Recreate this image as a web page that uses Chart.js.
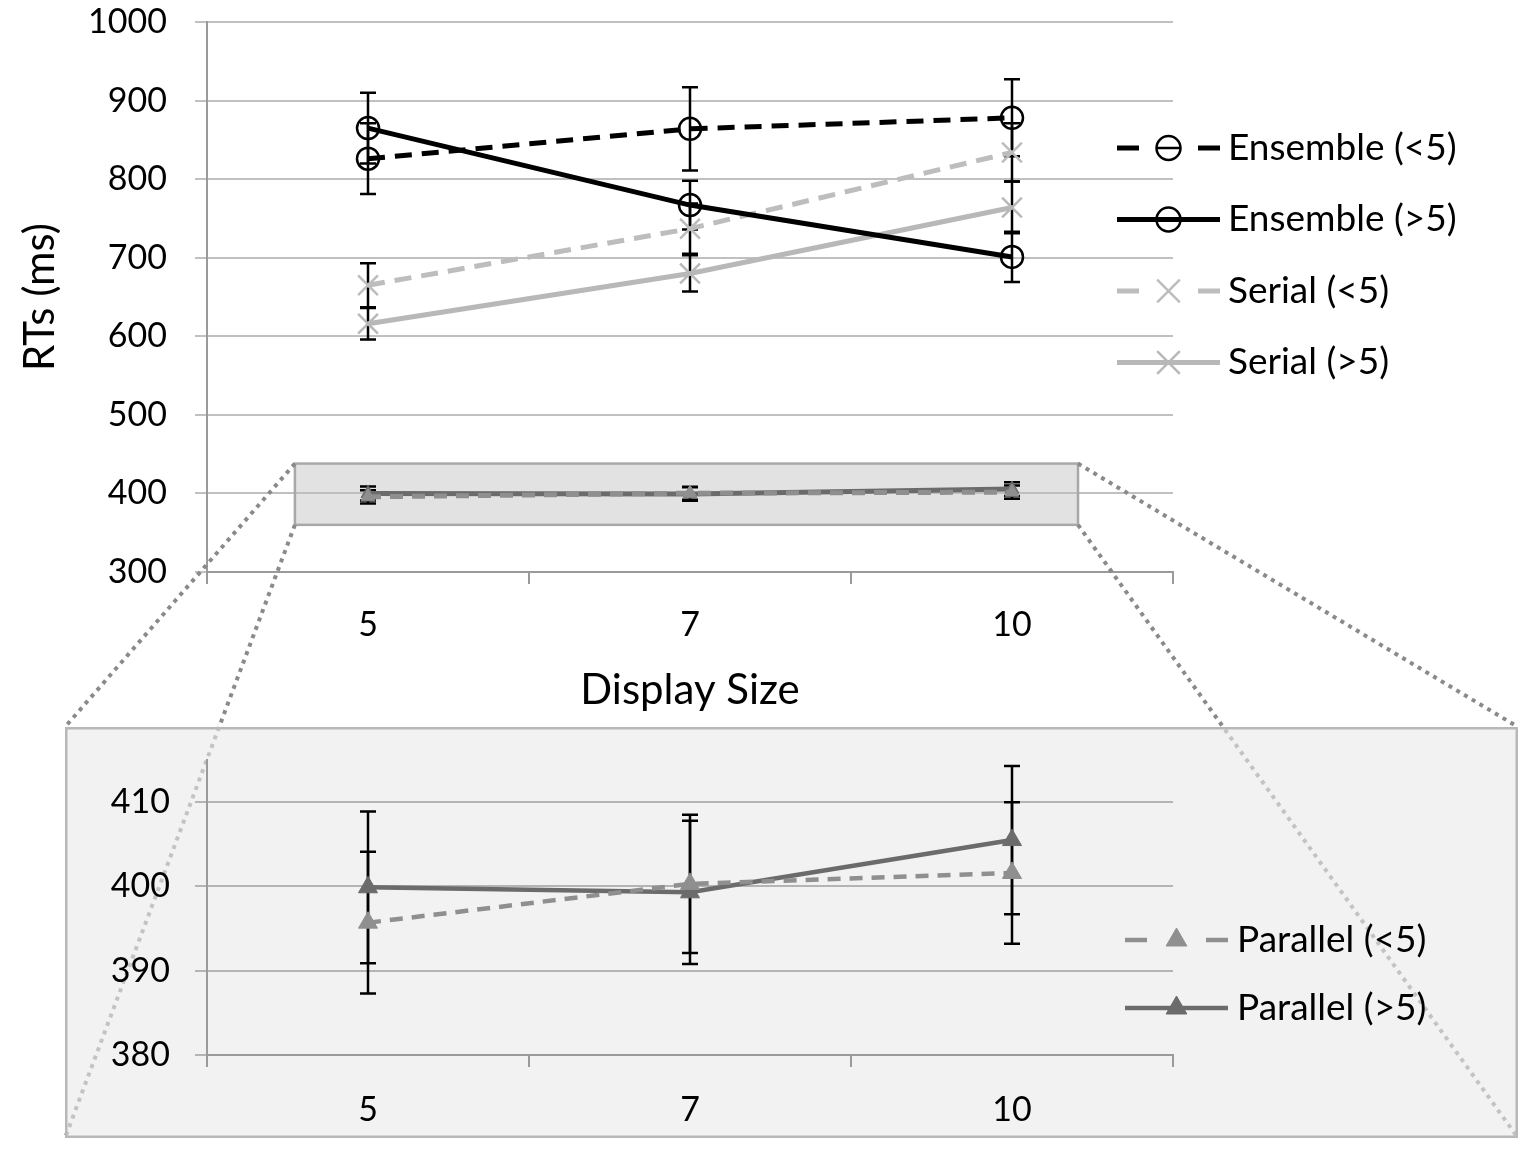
<!DOCTYPE html>
<html><head><meta charset="utf-8">
<script src="https://cdn.jsdelivr.net/npm/chart.js@4.4.0/dist/chart.umd.min.js"></script>
<style>
html,body{margin:0;padding:0;background:#fff;width:1535px;height:1158px;overflow:hidden;}
#topWrap{position:absolute;left:0;top:0;width:1535px;height:1158px;}
#botWrap{position:absolute;}
</style></head><body>
<div id="topWrap"><canvas id="top"></canvas></div>
<div id="botWrap"><canvas id="bot"></canvas></div>
<script>
// ---- data ----
const displaySizes = ['5', '7', '10'];
const ensembleLt5 = [826, 864, 878];
const ensembleLt5Err = [45, 53, 49];
const ensembleGt5 = [865, 767, 701];
const ensembleGt5Err = [45, 31, 32];
const serialLt5 = [665, 737, 834];
const serialLt5Err = [28, 32, 37];
const serialGt5 = [616, 680, 764];
const serialGt5Err = [20, 23, 33];
const parallelLt5 = [395.7, 400.3, 401.6];
const parallelLt5Err = [8.4, 8.2, 8.4];
const parallelGt5 = [399.9, 399.3, 405.5];
const parallelGt5Err = [9.0, 8.5, 8.8];
const topTicks = { min: 300, max: 1000, step: 100 };
const zoomTicks = { min: 380, max: 415, step: 10 };
const zoomRange = { yLow: 360, yHigh: 438, xFrom: -0.227, xTo: 2.205 };

// ---- layout ----
const PANEL = { left: 65, top: 727, width: 1453, height: 411 };
const bw = document.getElementById('botWrap');
bw.style.left = PANEL.left + 'px'; bw.style.top = PANEL.top + 'px';
bw.style.width = PANEL.width + 'px'; bw.style.height = PANEL.height + 'px';

const FONT = 'Lato, "Open Sans", sans-serif';
let zoomRectPx = null;

const errorBars = {
  id: 'errorBars',
  beforeDatasetsDraw(chart, args, o) {
    const ctx = chart.ctx, ys = chart.scales.y;
    ctx.save();
    ctx.strokeStyle = '#000'; ctx.lineWidth = o.width; ctx.setLineDash([]);
    chart.data.datasets.forEach((ds, i) => {
      if (!ds.errors) return;
      const meta = chart.getDatasetMeta(i);
      meta.data.forEach((pt, j) => {
        const v = ds.data[j], e = ds.errors[j];
        const yt = ys.getPixelForValue(v + e), yb = ys.getPixelForValue(v - e);
        ctx.beginPath();
        ctx.moveTo(pt.x, yt); ctx.lineTo(pt.x, yb);
        ctx.moveTo(pt.x - o.cap, yt); ctx.lineTo(pt.x + o.cap, yt);
        ctx.moveTo(pt.x - o.cap, yb); ctx.lineTo(pt.x + o.cap, yb);
        ctx.stroke();
      });
    });
    ctx.restore();
  }
};

const highlight = {
  id: 'highlight',
  beforeDatasetsDraw(chart) {
    const ctx = chart.ctx, xs = chart.scales.x, ys = chart.scales.y;
    const p0 = xs.getPixelForValue(0), p1 = xs.getPixelForValue(1);
    const x0 = p0 + zoomRange.xFrom * (p1 - p0), x1 = p0 + zoomRange.xTo * (p1 - p0);
    const y0 = ys.getPixelForValue(zoomRange.yHigh), y1 = ys.getPixelForValue(zoomRange.yLow);
    zoomRectPx = { x0, x1, y0, y1 };
    ctx.save();
    ctx.fillStyle = 'rgba(190,190,190,0.45)';
    ctx.fillRect(x0, y0, x1 - x0, y1 - y0);
    ctx.strokeStyle = '#a8a8a8'; ctx.lineWidth = 2.5;
    ctx.strokeRect(x0, y0, x1 - x0, y1 - y0);
    ctx.restore();
  }
};

const connectors = {
  id: 'connectors',
  afterDraw(chart) {
    if (!zoomRectPx) return;
    const r = zoomRectPx, ctx = chart.ctx;
    const L = PANEL.left, R = PANEL.left + PANEL.width, T = PANEL.top, B = PANEL.top + PANEL.height;
    ctx.save();
    ctx.strokeStyle = '#8a8a8a'; ctx.lineWidth = 4; ctx.setLineDash([4, 5]);
    [[r.x0, r.y0, L, T], [r.x1, r.y0, R, T], [r.x0, r.y1, L, B], [r.x1, r.y1, R, B]].forEach(s => {
      ctx.beginPath(); ctx.moveTo(s[0], s[1]); ctx.lineTo(s[2], s[3]); ctx.stroke();
    });
    ctx.restore();
  }
};

const lineLegend = {
  id: 'lineLegend',
  afterDraw(chart, args, o) {
    const ctx = chart.ctx;
    o.items.forEach((idx, k) => {
      const ds = chart.data.datasets[idx];
      const y = o.y0 + k * o.dy;
      const xm = (o.x1 + o.x2) / 2;
      ctx.save();
      ctx.strokeStyle = ds.borderColor; ctx.lineWidth = ds.borderWidth;
      ctx.setLineDash(ds.borderDash ? o.dash : []);
      ctx.beginPath(); ctx.moveTo(o.x1, y); ctx.lineTo(o.x2, y); ctx.stroke();
      ctx.setLineDash([]);
      ctx.strokeStyle = ds.pointBorderColor; ctx.fillStyle = ds.pointBackgroundColor;
      ctx.lineWidth = ds.pointBorderWidth;
      Chart.helpers.drawPoint(ctx, { pointStyle: ds.pointStyle, radius: ds.legendRadius, borderWidth: ds.pointBorderWidth, rotation: 0 }, xm, y);
      if (ds.pointStyle === 'circle') {
        ctx.lineWidth = 2.5;
        ctx.beginPath(); ctx.moveTo(xm - ds.legendRadius, y); ctx.lineTo(xm + ds.legendRadius, y); ctx.stroke();
      }
      ctx.fillStyle = '#000'; ctx.font = o.font; ctx.textBaseline = 'middle'; ctx.textAlign = 'left';
      ctx.fillText(ds.label, o.tx, y);
      ctx.restore();
    });
  }
};

const panelBg = {
  id: 'panelBg',
  beforeDraw(chart) {
    const c = chart.ctx;
    c.save();
    c.fillStyle = 'rgba(233,233,233,0.6)';
    c.fillRect(0, 0, chart.width, chart.height);
    c.strokeStyle = '#b8b8b8'; c.lineWidth = 2.5;
    c.strokeRect(1.25, 1.25, chart.width - 2.5, chart.height - 2.5);
    c.restore();
  }
};

function mkDs(label, data, errors, color, dash, style, r, lr, bwid) {
  return {
    label, data, errors, borderColor: color, borderWidth: bwid || 5, borderDash: dash || undefined,
    tension: 0, fill: false,
    pointStyle: style, pointRadius: r, pointHoverRadius: r, legendRadius: lr,
    pointBorderColor: style === 'circle' ? '#000' : color,
    pointBackgroundColor: style === 'circle' ? 'rgba(0,0,0,0)' : color,
    pointBorderWidth: style === 'triangle' ? 1 : 2.5
  };
}

function xScale(h, pad, title) {
  return {
    offset: true,
    grid: { display: true, offset: true, drawOnChartArea: false, drawTicks: true, tickLength: 12, color: '#9a9a9a', lineWidth: 2 },
    border: { color: '#9a9a9a', width: 2 },
    ticks: { font: { family: FONT, size: 34 }, color: '#000', padding: pad },
    title: title ? { display: true, text: title, font: { family: FONT, size: 42 }, color: '#000', padding: { top: 0, bottom: 0 } } : { display: false },
    afterFit(s) { s.height = h; s.paddingLeft = 0; s.paddingRight = 0; }
  };
}

function yScale(cfg, w, pad, title, gridColor) {
  return {
    min: cfg.min, max: cfg.max,
    afterBuildTicks(s) { s.ticks = s.ticks.filter(t => t.value % cfg.step === 0); },
    ticks: { stepSize: cfg.step, font: { family: FONT, size: 34 }, color: '#000', padding: pad, callback: v => String(v) },
    grid: { color: gridColor, lineWidth: 2, tickLength: 12 },
    border: { color: '#9a9a9a', width: 2 },
    title: title ? { display: true, text: title, font: { family: FONT, size: 42 }, color: '#000', padding: { top: 15, bottom: 0 } } : { display: false },
    afterFit(s) { s.width = w; s.paddingTop = 0; s.paddingBottom = 0; }
  };
}

const c1 = new Chart(document.getElementById('top'), {
  type: 'line',
  data: {
    labels: displaySizes,
    datasets: [
      mkDs('Ensemble (<5)', ensembleLt5, ensembleLt5Err, '#000', [17, 10], 'circle', 11, 12),
      mkDs('Ensemble (>5)', ensembleGt5, ensembleGt5Err, '#000', null, 'circle', 11, 12),
      mkDs('Serial (<5)', serialLt5, serialLt5Err, '#bdbdbd', [17, 10], 'crossRot', 14, 16),
      mkDs('Serial (>5)', serialGt5, serialGt5Err, '#b8b8b8', null, 'crossRot', 14, 16),
      mkDs('Parallel (<5)', parallelLt5, parallelLt5Err, '#8f8f8f', [13, 9], 'triangle', 8, 12),
      mkDs('Parallel (>5)', parallelGt5, parallelGt5Err, '#6b6b6b', null, 'triangle', 8, 12)
    ]
  },
  options: {
    responsive: true, maintainAspectRatio: false, animation: false,
    layout: { padding: { left: 0, top: 22, right: 362, bottom: 442 } },
    plugins: {
      legend: { display: false }, tooltip: { enabled: false },
      errorBars: { width: 2.5, cap: 8 },
      lineLegend: { items: [0, 1, 2, 3], x1: 1117, x2: 1220, tx: 1228, y0: 148, dy: 71.5, dash: [22, 59], font: '37px ' + FONT }
    },
    scales: {
      x: xScale(144, 21, 'Display Size'),
      y: yScale(topTicks, 207, 28, 'RTs (ms)', '#c0c0c0')
    }
  },
  plugins: [highlight, errorBars, lineLegend, connectors]
});

const c2 = new Chart(document.getElementById('bot'), {
  type: 'line',
  data: {
    labels: displaySizes,
    datasets: [
      mkDs('Parallel (<5)', parallelLt5, parallelLt5Err, '#8f8f8f', [13, 9], 'triangle', 11, 12, 4.5),
      mkDs('Parallel (>5)', parallelGt5, parallelGt5Err, '#6b6b6b', null, 'triangle', 11, 12, 4.5)
    ]
  },
  options: {
    responsive: true, maintainAspectRatio: false, animation: false,
    layout: { padding: { left: 0, top: 33, right: PANEL.width - 1108, bottom: 6 } },
    plugins: {
      legend: { display: false }, tooltip: { enabled: false },
      errorBars: { width: 2.5, cap: 8 },
      lineLegend: { items: [0, 1], x1: 1060, x2: 1163, tx: 1172, y0: 213, dy: 68, dash: [22, 59], font: '37px ' + FONT }
    },
    scales: {
      x: xScale(77, 23, null),
      y: yScale(zoomTicks, 142, 25, null, '#b4b4b4')
    }
  },
  plugins: [panelBg, errorBars, lineLegend]
});
c1.draw();
</script>
</body></html>
